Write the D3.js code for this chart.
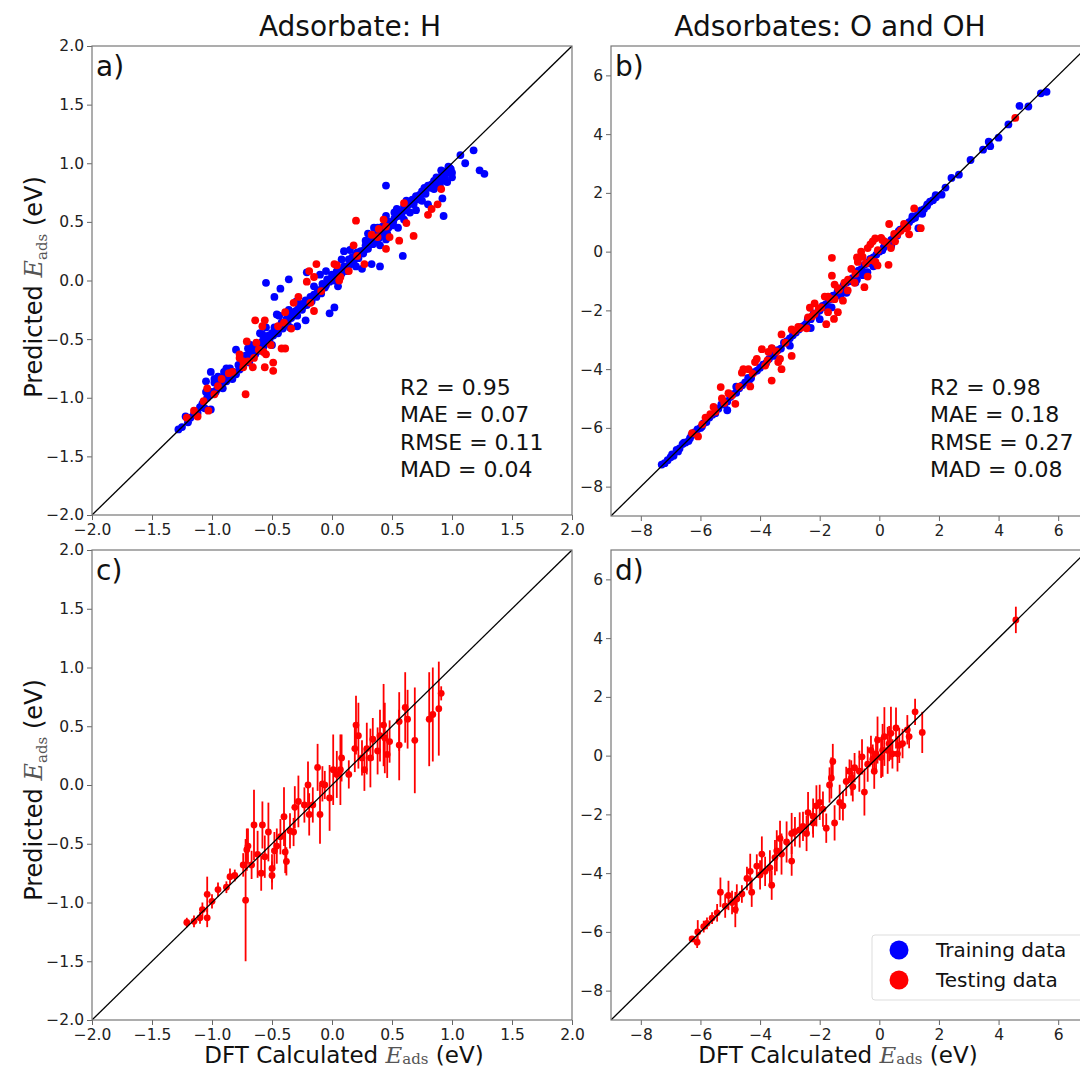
<!DOCTYPE html>
<html>
<head>
<meta charset="utf-8">
<script src="https://cdn.jsdelivr.net/npm/d3@7"></script>
<style>
  body { margin: 0; background: #fff; }
  text { font-family: "DejaVu Sans", sans-serif; }
</style>
</head>
<body>
<script>
// panel titles and labels
var colTitles = ["Adsorbate: H", "Adsorbates: O and OH"];
var panelTags = ["a)", "b)", "c)", "d)"];
var statsH = ["R2 = 0.95", "MAE = 0.07", "RMSE = 0.11", "MAD = 0.04"];
var statsO = ["R2 = 0.98", "MAE = 0.18", "RMSE = 0.27", "MAD = 0.08"];
var legendNames = ["Training data", "Testing data"];

// tick labels
var ticksH = [-2.0, -1.5, -1.0, -0.5, 0.0, 0.5, 1.0, 1.5, 2.0];
var ticksO = [-8, -6, -4, -2, 0, 2, 4, 6];

// a) H, training (DFT, predicted)
var hTrain = [
  [1.07,1.07],[1.18,1.11],[1.11,1.00],[1.23,0.94],[1.27,0.91],[0.45,0.81],
  [0.93,0.55],[0.59,0.21],[0.40,0.12],[0.33,0.14],[0.02,-0.23],[-0.02,-0.28],
  [-0.36,0.01],[-0.55,-0.02],[-0.48,-0.14],[-0.43,-0.07],[-0.21,0.07],
  [-0.80,-0.59],[-1.01,-0.78],[-1.05,-0.86],[-1.01,-1.10],[0.92,0.70],
  [0.80,0.65],[0.71,0.69],[0.54,0.61],[-0.22,-0.34],[-0.29,-0.39],
  [-0.46,-0.29],[-0.36,-0.25],
  [-1.28,-1.27],[-1.25,-1.25],[-1.22,-1.16],[-1.20,-1.21],[-1.15,-1.14],
  [-1.12,-1.13],[-1.08,-1.05],[-1.06,-1.09],[-1.02,-0.98],[-1.00,-0.95],
  [-0.98,-0.87],[-0.96,-0.93],[-0.94,-0.90],[-0.92,-0.87],[-0.90,-0.83],
  [-0.88,-0.86],[-0.85,-0.81],[-0.82,-0.78],[-0.80,-0.80],[-0.78,-0.72],
  [-0.75,-0.73],[-0.73,-0.68],[-0.72,-0.64],[-0.70,-0.66],[-0.68,-0.62],
  [-0.66,-0.58],[-0.64,-0.63],[-0.62,-0.55],[-0.60,-0.58],[-0.58,-0.52],
  [-0.56,-0.53],[-0.54,-0.48],[-0.52,-0.50],[-0.50,-0.45],[-0.48,-0.40],
  [-0.46,-0.42],[-0.44,-0.40],[-0.42,-0.36],[-0.40,-0.38],[-0.38,-0.33],
  [-0.36,-0.30],[-0.34,-0.32],[-0.32,-0.27],[-0.30,-0.26],[-0.28,-0.24],
  [-0.26,-0.20],[-0.24,-0.22],[-0.22,-0.17],[-0.20,-0.19],[-0.18,-0.14],
  [-0.15,-0.12],[-0.12,-0.10],[-0.10,-0.08],[-0.08,-0.03],[-0.06,-0.06],
  [-0.04,0.01],[-0.02,-0.01],[0.00,0.05],[0.02,0.00],[0.04,0.08],[0.06,0.03],
  [0.08,0.06],[0.10,0.12],[0.12,0.08],[0.14,0.18],[0.16,0.14],[0.18,0.16],
  [0.20,0.22],[0.22,0.19],[0.24,0.25],[0.26,0.23],[0.28,0.30],[0.30,0.27],
  [0.32,0.34],[0.34,0.31],[0.36,0.33],[0.38,0.40],[0.40,0.38],[0.42,0.46],
  [0.44,0.43],[0.46,0.40],[0.48,0.50],[0.50,0.47],[0.52,0.53],[0.55,0.55],
  [0.58,0.56],[0.60,0.63],[0.62,0.60],[0.65,0.66],[0.68,0.65],[0.70,0.72],
  [0.72,0.70],[0.75,0.76],[0.78,0.74],[0.80,0.81],[0.82,0.79],[0.85,0.85],
  [0.88,0.83],[0.90,0.88],[0.92,0.91],[0.94,0.87],[0.95,0.93],[0.97,0.92],
  [0.99,0.95],[1.00,0.88],[0.98,0.96],[0.96,0.84],
  [0.35,0.45],[0.45,0.55],[0.30,0.40],[0.15,0.26],[0.10,0.25],[-0.10,0.05],
  [-0.15,-0.05],[0.25,0.10],[0.55,0.45],[0.65,0.58],[0.70,0.60],[0.45,0.35],
  [-0.55,-0.40],[-0.60,-0.45],[-0.70,-0.58],[-0.85,-0.75],[-0.95,-0.82],
  [-1.05,-0.95],[-0.50,-0.55],[-0.35,-0.40],[0.05,-0.05],[0.20,0.12],
  [0.40,0.30],[0.60,0.52],[0.75,0.68],[0.85,0.78],[0.90,0.80],
  [-1.18,-1.17],[-1.10,-1.08],[-1.04,-1.00],[-0.97,-0.95],[-0.91,-0.92],
  [-0.87,-0.80],[-0.83,-0.84],[-0.77,-0.76],[-0.74,-0.70],[-0.69,-0.70],
  [-0.65,-0.61],[-0.61,-0.60],[-0.57,-0.56],[-0.53,-0.47],[-0.49,-0.47],
  [-0.45,-0.45],[-0.41,-0.41],[-0.37,-0.36],[-0.33,-0.29],[-0.29,-0.30],
  [-0.25,-0.25],[-0.21,-0.21],[-0.17,-0.18],[-0.13,-0.14],[-0.09,-0.11],
  [-0.05,-0.04],[0.01,0.02],[0.05,0.06],[0.09,0.09],[0.13,0.12],[0.17,0.20],
  [0.21,0.24],[0.27,0.26],[0.31,0.31],[0.35,0.36],[0.39,0.36],[0.43,0.40],
  [0.47,0.45],[0.51,0.50],[0.57,0.59],[0.63,0.64],[0.67,0.69],[0.73,0.73],
  [0.77,0.79],[0.83,0.82],[0.87,0.88],[0.91,0.94],[0.93,0.85],[0.97,0.97],
  [1.00,0.92],[0.62,0.68],[0.52,0.58],[0.38,0.45],[0.28,0.34],[0.08,0.18],
  [-0.05,0.08],[-0.30,-0.18],[-0.44,-0.30],[-0.58,-0.46],[-0.68,-0.55],
  [-0.88,-0.75],[-0.98,-0.84],[-0.90,-0.78]
];

// a) H, testing
var hTest = [
  [0.91,0.78],[0.88,0.65],[0.83,0.61],[0.80,0.56],[0.68,0.38],[0.62,0.49],
  [0.60,0.66],[0.56,0.34],[0.48,0.37],[0.45,0.27],[0.43,0.52],[0.38,0.37],
  [0.33,0.39],[0.20,0.51],[0.27,0.14],[0.18,0.30],[0.14,0.08],[0.07,0.03],
  [0.04,0.13],[0.02,0.14],[-0.13,0.14],[-0.15,0.03],[-0.21,-0.01],
  [-0.19,0.08],[-0.15,-0.26],[-0.18,-0.19],[-0.28,-0.14],[-0.32,-0.19],
  [-0.39,-0.27],[-0.45,-0.39],[-0.40,-0.36],[-0.34,-0.41],[-0.39,-0.58],
  [-0.42,-0.58],[-0.51,-0.55],[-0.56,-0.34],[-0.64,-0.34],[-0.58,-0.39],
  [-0.63,-0.53],[-0.71,-0.52],[-0.55,-0.63],[-0.57,-0.61],[-0.65,-0.66],
  [-0.70,-0.69],[-0.66,-0.74],[-0.56,-0.74],[-0.49,-0.70],[-0.49,-0.77],
  [-0.74,-0.74],[-0.72,-0.97],[-0.86,-0.79],[-0.83,-0.78],[-0.92,-0.84],
  [-0.95,-0.90],[-1.04,-0.92],[-1.07,-1.03],[-1.03,-1.11],[-1.15,-1.11],
  [-1.21,-1.17],[-1.12,-1.16],[-0.98,-0.97],[-0.77,-0.66],[-0.77,-0.63],
  [-0.74,-0.69],[-0.61,-0.59],[-0.09,-0.09],[0.06,0.00],[0.21,0.21],
  [0.39,0.44],[0.45,0.46]
];

// b) O and OH, training
var oTrain = [
  [5.61,5.44],[5.42,5.39],[5.00,4.94],[4.70,4.96],[4.33,4.33],[4.00,3.88],
  [3.67,3.74],[3.48,3.47],[3.72,3.59],[3.06,3.12],[2.67,2.62],[2.42,2.51],
  [2.22,2.18],[2.09,1.94],[1.89,1.92],[1.61,1.61],[1.31,0.80],[1.44,1.29],
  [1.11,1.20],
  [-7.3,-7.25],[-7.2,-7.2],[-7.0,-7.0],[-6.9,-6.95],[-6.8,-6.75],[-6.7,-6.7],
  [-6.6,-6.55],[-6.5,-6.5],[-6.4,-6.45],[-6.3,-6.25],[-6.2,-6.15],[-6.0,-6.0],
  [-5.9,-5.85],[-5.8,-5.8],[-5.6,-5.55],[-5.5,-5.5],[-5.3,-5.2],[-5.2,-5.2],
  [-5.0,-4.95],[-4.9,-4.85],[-4.8,-4.8],[-4.6,-4.55],[-4.5,-4.45],
  [-4.4,-4.3],[-4.3,-4.3],[-4.2,-4.1],[-4.0,-3.95],[-3.9,-3.85],
  [-3.7,-3.65],[-3.6,-3.5],[-3.5,-3.45],[-3.4,-3.35],[-3.3,-3.3],
  [-3.2,-3.1],[-3.0,-2.95],[-2.9,-2.85],[-2.8,-2.75],[-2.6,-2.55],
  [-2.5,-2.5],[-2.4,-2.3],[-2.3,-2.3],[-2.2,-2.1],[-2.0,-2.0],[-1.9,-1.85],
  [-1.8,-1.8],[-1.7,-1.65],[-1.6,-1.6],[-1.5,-1.55],[-1.4,-1.35],
  [-1.3,-1.3],[-1.2,-1.15],[-1.0,-1.0],[-0.9,-0.9],[-0.8,-0.85],
  [-0.7,-0.65],[-0.6,-0.6],[-0.5,-0.45],[-0.4,-0.4],[-0.3,-0.25],
  [-0.2,-0.2],[0.0,0.0],[0.1,0.05],[0.2,0.25],[0.3,0.3],[0.5,0.5],
  [0.6,0.55],[0.7,0.75],[0.8,0.8],[1.0,1.0],[1.2,1.15],[1.4,1.4],
  [1.5,1.45],[1.7,1.7],[1.9,1.85],
  [-1.1,-1.4],[-0.8,-1.05],[-2.3,-2.6],[-2.0,-2.3],[-0.4,-0.7],[-1.6,-1.9],
  [-3.6,-3.3],[-4.8,-4.6],[-5.1,-5.4],[-3.0,-3.2],[-0.2,-0.5],[0.4,0.2],
  [-7.1,-7.1],[-6.95,-6.9],[-6.75,-6.8],[-6.55,-6.5],[-6.35,-6.35],
  [-6.1,-6.05],[-5.95,-5.95],[-5.7,-5.65],[-5.4,-5.35],[-5.1,-5.1],
  [-4.7,-4.65],[-4.35,-4.35],[-4.1,-4.05],[-3.8,-3.8],[-3.55,-3.55],
  [-3.1,-3.05],[-2.7,-2.65],[-2.45,-2.45],[-2.1,-2.1],[-1.85,-1.9],
  [-1.55,-1.5],[-1.25,-1.25],[-1.1,-1.05],[-0.95,-1.0],[-0.65,-0.7],
  [-0.35,-0.35],[-0.1,-0.1],[0.15,0.15],[0.4,0.4],[0.65,0.7],[0.9,0.9],
  [1.1,1.1],[1.3,1.3],[1.6,1.55],[1.8,1.75],[-0.75,-0.95],[-0.55,-0.8],
  [-1.3,-1.5]
];

// b) O and OH, testing
var oTest = [
  [4.56,4.55],[1.17,1.47],[1.39,0.80],[1.00,0.59],[0.94,0.82],[0.33,0.94],
  [-0.14,0.45],[0.06,0.47],[0.53,0.35],[0.31,-0.45],[-0.06,-0.47],
  [-0.13,-0.35],[-0.28,-0.29],[-0.56,-0.18],[-0.39,-0.85],[-0.50,-1.21],
  [-0.83,-1.06],[-1.06,-1.32],[-1.59,-0.21],[-1.59,-0.82],[-1.50,-1.12],
  [-1.39,-1.24],[-1.22,-1.67],[-1.50,-1.62],[-1.83,-1.53],[-1.78,-2.47],
  [-1.52,-2.29],[-1.39,-2.06],[-1.72,-2.06],[-2.03,-1.94],[-2.33,-1.91],
  [-2.17,-2.12],[-2.44,-2.61],[-2.72,-2.56],[-2.94,-2.65],[-2.94,-3.55],
  [-3.28,-2.82],[-3.33,-3.65],[-3.28,-4.00],[-3.39,-3.76],[-3.61,-3.29],
  [-3.61,-4.39],[-3.94,-3.32],[-3.83,-3.88],[-4.17,-3.76],[-4.39,-4.00],
  [-4.33,-4.59],[-4.83,-5.18],[-5.32,-4.61],[-5.06,-4.82],[-5.28,-5.00],
  [-5.56,-5.29],[-5.83,-5.65],[-6.08,-6.29],[-6.28,-6.18],[-5.94,-5.88],
  [-5.67,-5.53],[-4.61,-4.12],[-4.56,-4.00],[-4.11,-3.65],[-3.72,-3.41],
  [-2.83,-2.71],[-2.39,-2.24],[-2.17,-1.76],[-1.72,-1.53],[-1.17,-1.06],
  [-0.94,-0.59],[-0.72,-0.35],[-0.61,0.00],[-0.39,0.12],[-0.22,0.35],
  [0.17,0.35],[0.39,0.12],[0.61,0.59],[0.72,0.71],[0.83,0.94],
  [-5.5,-5.45],[-5.2,-5.15],[-4.95,-4.9],[-4.7,-4.6],[-4.25,-4.15],
  [-3.75,-3.7],[-3.45,-3.4],[-3.15,-3.1],[-2.65,-2.6],[-2.25,-2.2],
  [-1.95,-1.9],[-1.65,-1.6],[-1.35,-1.3],[-1.05,-0.95],[-0.8,-0.75],
  [-0.45,-0.4],[-0.05,0.05],[0.25,0.3],[0.5,0.6],[0.85,0.8],[-0.3,0.25],
  [0.1,0.4],[-0.75,-0.2]
];

// c) H testing with uncertainty (DFT, predicted, error)
var hErr = [
  [-1.21,-1.17,0.04],[-1.15,-1.16,0.05],[-1.10,-1.13,0.05],[-1.08,-1.06,0.06],
  [-1.04,-0.93,0.15],[-1.04,-1.13,0.08],[-1.00,-0.99,0.06],[-0.95,-0.89,0.06],
  [-0.88,-0.87,0.05],[-0.85,-0.78,0.07],[-0.81,-0.77,0.05],[-0.74,-0.68,0.10],
  [-0.72,-0.98,0.52],[-0.71,-0.55,0.18],[-0.70,-0.52,0.15],[-0.67,-0.68,0.12],
  [-0.65,-0.34,0.30],[-0.62,-0.59,0.20],[-0.59,-0.75,0.15],[-0.58,-0.34,0.20],
  [-0.56,-0.61,0.18],[-0.53,-0.40,0.25],[-0.50,-0.71,0.12],[-0.50,-0.77,0.12],
  [-0.48,-0.56,0.16],[-0.46,-0.52,0.15],[-0.43,-0.44,0.15],[-0.40,-0.27,0.25],
  [-0.39,-0.57,0.18],[-0.38,-0.65,0.12],[-0.35,-0.39,0.15],[-0.32,-0.40,0.12],
  [-0.31,-0.19,0.18],[-0.28,-0.14,0.22],[-0.23,-0.17,0.15],[-0.20,0.00,0.20],
  [-0.19,-0.25,0.18],[-0.16,-0.17,0.15],[-0.12,0.15,0.20],[-0.10,-0.25,0.25],
  [-0.08,0.01,0.15],[-0.06,0.00,0.12],[-0.02,-0.11,0.28],[0.01,0.13,0.30],
  [0.04,0.09,0.20],[0.07,0.13,0.30],[0.08,0.23,0.20],[0.14,0.09,0.12],
  [0.19,0.31,0.20],[0.20,0.51,0.25],[0.22,0.42,0.28],[0.25,0.23,0.15],
  [0.27,0.13,0.18],[0.29,0.31,0.22],[0.32,0.23,0.25],[0.34,0.39,0.18],
  [0.38,0.29,0.20],[0.40,0.42,0.22],[0.43,0.51,0.35],[0.44,0.40,0.30],
  [0.46,0.26,0.20],[0.48,0.37,0.18],[0.56,0.54,0.25],[0.56,0.34,0.30],
  [0.61,0.66,0.30],[0.63,0.56,0.25],[0.69,0.38,0.45],[0.81,0.56,0.40],
  [0.84,0.60,0.40],[0.89,0.65,0.40],[0.91,0.78,0.06]
];

// d) O and OH testing with uncertainty
var oErr = [
  [4.58,4.62,0.45],[1.44,0.79,0.70],[1.20,1.49,0.45],[1.00,0.65,0.40],
  [0.94,0.88,0.50],[0.67,0.35,0.60],[0.56,0.94,0.70],[0.39,0.76,0.90],
  [0.28,0.18,0.80],[0.17,0.65,1.00],[0.06,-0.06,0.70],[-0.06,0.53,0.80],
  [-0.17,-0.53,0.60],[-0.28,0.18,0.50],[-0.39,-0.29,0.60],[-0.50,-1.24,0.80],
  [-0.58,-0.04,0.60],[-0.67,-0.53,0.70],[-0.83,-0.41,0.50],[-0.94,-0.76,0.60],
  [-1.11,-0.88,0.50],[-1.22,-1.71,0.50],[-1.33,-1.59,0.60],[-1.56,-0.20,0.60],
  [-1.61,-0.76,0.70],[-1.50,-2.29,0.60],[-1.67,-1.00,0.60],[-1.78,-2.47,0.50],
  [-1.89,-1.82,0.60],[-2.00,-1.59,0.60],[-2.11,-1.71,0.70],[-2.22,-2.06,0.60],
  [-2.39,-1.94,0.70],[-2.44,-2.65,0.60],[-2.56,-2.41,0.50],[-2.83,-2.59,0.50],
  [-2.94,-3.59,0.50],[-2.94,-2.65,0.70],[-3.11,-2.94,0.70],[-3.28,-3.35,0.70],
  [-3.33,-2.82,0.60],[-3.50,-3.47,0.60],[-3.61,-4.41,0.50],[-3.67,-3.82,0.60],
  [-3.83,-3.94,0.50],[-3.94,-3.35,0.60],[-4.11,-3.76,0.40],[-4.28,-4.65,0.50],
  [-4.33,-3.94,0.60],[-4.44,-4.18,0.40],[-4.61,-4.71,0.30],[-4.78,-4.88,0.50],
  [-4.83,-5.24,0.60],[-4.94,-5.00,0.40],[-5.06,-4.76,0.50],[-5.17,-5.12,0.40],
  [-5.33,-4.65,0.50],[-5.44,-5.35,0.30],[-5.61,-5.53,0.20],[-5.78,-5.71,0.20],
  [-5.89,-5.82,0.20],[-6.09,-6.00,0.40],[-6.11,-6.35,0.20],[-6.28,-6.24,0.10],
  [0.33,0.41,0.60],[0.44,0.06,0.50],[0.11,0.18,0.90],[-0.11,0.06,0.60],
  [-0.22,-0.12,0.50],[0.78,0.41,0.50],[0.61,0.06,0.60],[-1.00,-0.53,0.40],
  [-0.89,-1.06,0.50],[-2.22,-2.29,0.50],[-2.67,-2.53,0.60],[-3.44,-3.24,0.70],
  [-4.00,-4.06,0.50]
];

var blue = "#0000ff", red = "#ff0000";
var W = 1080, H = 1067;

var svg = d3.select("body").append("svg")
    .attr("width", W)
    .attr("height", H);

var panels = [
    {x0: 92, x1: 572, y0: 46, y1: 515, dom: [-2, 2], ticks: ticksH,
     fmt: d3.format(".1f"), train: hTrain, test: hTest, stats: statsH,
     sx: 400},
    {x0: 611, x1: 1088, y0: 46, y1: 516, dom: [-9, 7], ticks: ticksO,
     fmt: d3.format("d"), train: oTrain, test: oTest, stats: statsO,
     sx: 930},
    {x0: 92, x1: 572, y0: 550, y1: 1020, dom: [-2, 2], ticks: ticksH,
     fmt: d3.format(".1f"), err: hErr},
    {x0: 611, x1: 1088, y0: 550, y1: 1020, dom: [-9, 7], ticks: ticksO,
     fmt: d3.format("d"), err: oErr}
];

panels.forEach(function(p, i) {
    var x = d3.scaleLinear().domain(p.dom).range([p.x0, p.x1]);
    var y = d3.scaleLinear().domain(p.dom).range([p.y1, p.y0]);
    var g = svg.append("g");

    var clipId = "clip" + i;
    g.append("clipPath").attr("id", clipId)
      .append("rect")
        .attr("x", p.x0).attr("y", p.y0)
        .attr("width", p.x1 - p.x0).attr("height", p.y1 - p.y0);

    var plot = g.append("g").attr("clip-path", "url(#" + clipId + ")");

    if (p.train) {
        plot.selectAll("circle.tr").data(p.train).enter()
          .append("circle").attr("class", "tr")
            .attr("cx", function(d) { return x(d[0]); })
            .attr("cy", function(d) { return y(d[1]); })
            .attr("r", 3.9)
            .attr("fill", blue);
        plot.selectAll("circle.te").data(p.test).enter()
          .append("circle").attr("class", "te")
            .attr("cx", function(d) { return x(d[0]); })
            .attr("cy", function(d) { return y(d[1]); })
            .attr("r", 3.9)
            .attr("fill", red);
    }
    if (p.err) {
        plot.selectAll("line.eb").data(p.err).enter()
          .append("line").attr("class", "eb")
            .attr("x1", function(d) { return x(d[0]); })
            .attr("x2", function(d) { return x(d[0]); })
            .attr("y1", function(d) { return y(d[1] - d[2]); })
            .attr("y2", function(d) { return y(d[1] + d[2]); })
            .attr("stroke", red)
            .attr("stroke-width", 1.8);
        plot.selectAll("circle.em").data(p.err).enter()
          .append("circle").attr("class", "em")
            .attr("cx", function(d) { return x(d[0]); })
            .attr("cy", function(d) { return y(d[1]); })
            .attr("r", 3.4)
            .attr("fill", red);
    }

    // parity line
    plot.append("line")
        .attr("x1", x(p.dom[0])).attr("y1", y(p.dom[0]))
        .attr("x2", x(p.dom[1])).attr("y2", y(p.dom[1]))
        .attr("stroke", "#000").attr("stroke-width", 1.3);

    var xAxis = d3.axisBottom(x).tickValues(p.ticks).tickFormat(p.fmt)
        .tickSizeOuter(0).tickSize(5).tickPadding(3.5);
    var yAxis = d3.axisLeft(y).tickValues(p.ticks).tickFormat(p.fmt)
        .tickSizeOuter(0).tickSize(5);

    var gx = g.append("g").attr("transform", "translate(0," + p.y1 + ")")
        .call(xAxis);
    var gy = g.append("g").attr("transform", "translate(" + p.x0 + ",0)")
        .call(yAxis);
    g.selectAll(".tick line").attr("stroke", "#666");
    g.selectAll(".tick text").attr("fill", "#222")
        .attr("font-size", 15.5)
        .attr("font-family", "DejaVu Sans, sans-serif");
    g.selectAll(".domain").remove();

    g.append("rect")
        .attr("x", p.x0).attr("y", p.y0)
        .attr("width", p.x1 - p.x0).attr("height", p.y1 - p.y0)
        .attr("fill", "none").attr("stroke", "#777")
        .attr("stroke-width", 1.2);

    g.append("text")
        .attr("x", p.x0 + 4).attr("y", p.y0 + 30)
        .attr("font-size", 28).attr("fill", "#111")
        .text(panelTags[i]);

    if (p.stats) {
        g.selectAll("text.st").data(p.stats).enter()
          .append("text").attr("class", "st")
            .attr("x", p.sx)
            .attr("y", function(d, k) { return 395 + k * 27.3; })
            .attr("font-size", 22).attr("fill", "#111")
            .text(function(d) { return d; });
    }
});

// column titles
svg.selectAll("text.title").data(colTitles).enter()
  .append("text").attr("class", "title")
    .attr("x", function(d, i) { return i === 0 ? 350 : 830; })
    .attr("y", 36)
    .attr("text-anchor", "middle")
    .attr("font-size", 28).attr("fill", "#111")
    .text(function(d) { return d; });

// label with E_ads
function eadsLabel(sel, before, sub) {
    sel.append("tspan").text(before);
    sel.append("tspan").attr("font-family", "DejaVu Serif, serif")
        .attr("font-style", "italic").attr("fill", "#555").text("E");
    sel.append("tspan").attr("font-family", "DejaVu Serif, serif")
        .attr("font-size", 15).attr("dy", sub).attr("fill", "#555")
        .text("ads");
    sel.append("tspan").attr("dy", -sub).text(" (eV)");
}

[287, 790].forEach(function(cy) {
    var t = svg.append("text")
        .attr("transform", "translate(42," + cy + ") rotate(-90)")
        .attr("text-anchor", "middle")
        .attr("font-size", 24).attr("fill", "#111");
    eadsLabel(t, "Predicted ", 5);
});

[344, 838].forEach(function(cx) {
    var t = svg.append("text")
        .attr("x", cx).attr("y", 1063)
        .attr("text-anchor", "middle")
        .attr("font-size", 23).attr("fill", "#111");
    eadsLabel(t, "DFT Calculated ", 0.5);
});

// legend in panel d
var lg = svg.append("g");
lg.append("rect")
    .attr("x", 872).attr("y", 935)
    .attr("width", 220).attr("height", 65)
    .attr("rx", 3)
    .attr("fill", "#fff").attr("stroke", "#ddd");
lg.selectAll("circle").data(legendNames).enter()
  .append("circle")
    .attr("cx", 899)
    .attr("cy", function(d, i) { return 950 + i * 30; })
    .attr("r", 9.5)
    .attr("fill", function(d, i) { return i === 0 ? blue : red; });
lg.selectAll("text").data(legendNames).enter()
  .append("text")
    .attr("x", 936)
    .attr("y", function(d, i) { return 957 + i * 30; })
    .attr("font-size", 20).attr("fill", "#111")
    .text(function(d) { return d; });
</script>
</body>
</html>
